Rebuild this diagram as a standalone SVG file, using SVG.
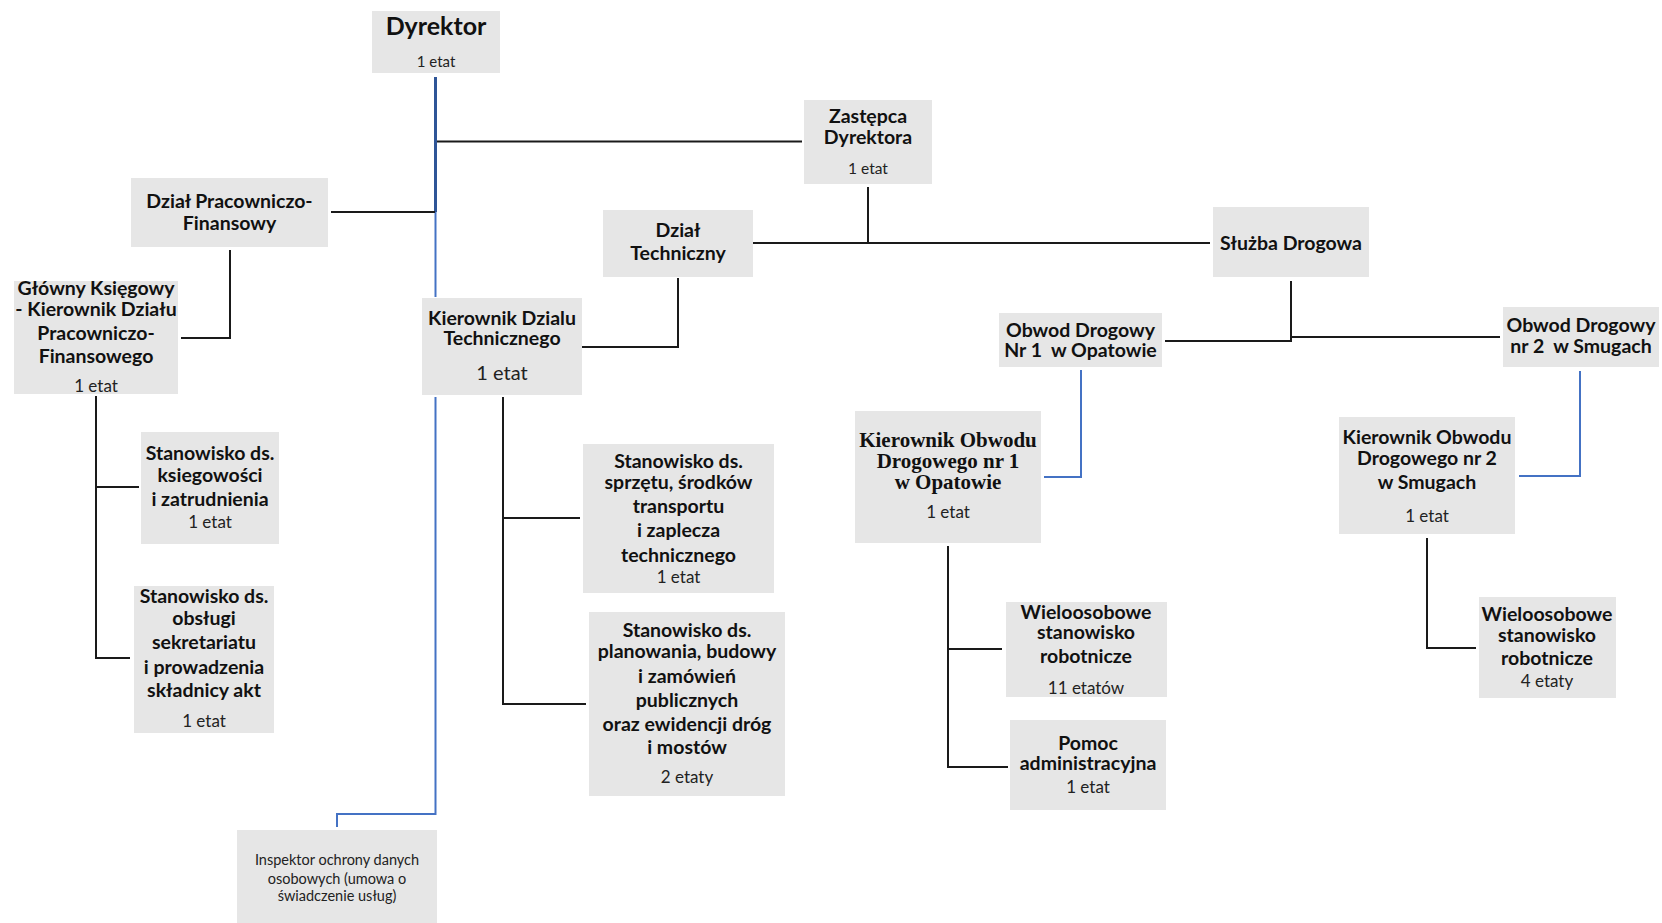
<svg xmlns="http://www.w3.org/2000/svg" width="1662" height="923" viewBox="0 0 1662 923">
<style>
.box{fill:#e6e6e6}
.t{font-family:Lato,"Noto Sans",sans-serif;font-weight:bold;font-size:19.5px;fill:#111;text-anchor:middle;white-space:pre}
.f{font-family:"Liberation Serif",serif;font-weight:bold;font-size:21px;fill:#111;text-anchor:middle}
.s{font-family:Lato,"Noto Sans",sans-serif;font-size:17px;fill:#222;text-anchor:middle}
.ln{fill:none;stroke:#1a1a1a;stroke-width:2}
.bd{fill:none;stroke:#2f5597;stroke-width:3}
.bl{fill:none;stroke:#4472c4;stroke-width:2}
</style>
<rect width="1662" height="923" fill="#fff"/>
<g id="connectors">
<path class="bd" d="M435.5 77V212"/>
<path class="bl" d="M435.5 212V297"/>
<path class="bl" d="M435.5 397V814H337V827"/>
<path class="ln" d="M437 141.5H802"/>
<path class="ln" d="M331 212H435"/>
<path class="ln" d="M230 250V338H181"/>
<path class="ln" d="M96 396V658H130M96 487H139"/>
<path class="ln" d="M868 187V243M753 243H1210"/>
<path class="ln" d="M678 278V347H582"/>
<path class="ln" d="M503 397V704H586M503 518H580"/>
<path class="ln" d="M1291 281V341H1165M1291 337H1500"/>
<path class="bl" d="M1081 370V477H1044"/>
<path class="bl" d="M1580 371V476H1519"/>
<path class="ln" d="M948 546V767H1008M948 649H1002"/>
<path class="ln" d="M1427 538V648H1476"/>
</g>
<g id="dyrektor"><rect class="box" x="372" y="11" width="128" height="62"/><text class="t" x="436" y="35" style="font-size:25px">Dyrektor</text><text class="s" x="436" y="67" style="font-size:15px">1 etat</text></g>
<g id="zastepca"><rect class="box" x="804" y="100" width="128" height="84"/><text class="t" x="868" y="123">Zastępca</text><text class="t" x="868" y="144">Dyrektora</text><text class="s" x="868" y="174" style="font-size:15.5px">1 etat</text></g>
<g id="dzial-pf"><rect class="box" x="131" y="178" width="197" height="69"/><text class="t" x="229.5" y="208">Dział Pracowniczo-</text><text class="t" x="229.5" y="230">Finansowy</text></g>
<g id="glowny"><rect class="box" x="14" y="281" width="164" height="113"/><text class="t" x="96" y="295">Główny Księgowy</text><text class="t" x="96" y="316">- Kierownik Działu</text><text class="t" x="96" y="340">Pracowniczo-</text><text class="t" x="96" y="363">Finansowego</text><text class="s" x="96" y="392">1 etat</text></g>
<g id="kier-dt"><rect class="box" x="422" y="298" width="160" height="97"/><text class="t" x="502" y="325">Kierownik Dzialu</text><text class="t" x="502" y="345">Technicznego</text><text class="s" x="502" y="380" style="font-size:20px">1 etat</text></g>
<g id="dzial-t"><rect class="box" x="603" y="210" width="150" height="67"/><text class="t" x="678" y="237">Dział</text><text class="t" x="678" y="260">Techniczny</text></g>
<g id="sluzba"><rect class="box" x="1213" y="207" width="156" height="70"/><text class="t" x="1291" y="250">Służba Drogowa</text></g>
<g id="obwod1"><rect class="box" x="999" y="313" width="163" height="54"/><text class="t" x="1080.5" y="337">Obwod Drogowy</text><text class="t" x="1080.5" y="357">Nr 1  w Opatowie</text></g>
<g id="obwod2"><rect class="box" x="1503" y="307" width="156" height="60"/><text class="t" x="1581" y="332">Obwod Drogowy</text><text class="t" x="1581" y="353">nr 2  w Smugach</text></g>
<g id="kier-ob1"><rect class="box" x="855" y="411" width="186" height="132"/><text class="f" x="948" y="447">Kierownik Obwodu</text><text class="f" x="948" y="468">Drogowego nr 1</text><text class="f" x="948" y="489">w Opatowie</text><text class="s" x="948" y="518">1 etat</text></g>
<g id="kier-ob2"><rect class="box" x="1339" y="417" width="176" height="117"/><text class="t" x="1427" y="444">Kierownik Obwodu</text><text class="t" x="1427" y="465">Drogowego nr 2</text><text class="t" x="1427" y="489">w Smugach</text><text class="s" x="1427" y="522">1 etat</text></g>
<g id="st-ksieg"><rect class="box" x="141" y="432" width="138" height="112"/><text class="t" x="210" y="460">Stanowisko ds.</text><text class="t" x="210" y="482">ksiegowości</text><text class="t" x="210" y="506">i zatrudnienia</text><text class="s" x="210" y="528">1 etat</text></g>
<g id="st-sekr"><rect class="box" x="134" y="586" width="140" height="147"/><text class="t" x="204" y="603">Stanowisko ds.</text><text class="t" x="204" y="625">obsługi</text><text class="t" x="204" y="649">sekretariatu</text><text class="t" x="204" y="674">i prowadzenia</text><text class="t" x="204" y="697">składnicy akt</text><text class="s" x="204" y="727">1 etat</text></g>
<g id="st-sprzet"><rect class="box" x="583" y="444" width="191" height="149"/><text class="t" x="678.5" y="468">Stanowisko ds.</text><text class="t" x="678.5" y="489">sprzętu, środków</text><text class="t" x="678.5" y="513">transportu</text><text class="t" x="678.5" y="537">i zaplecza</text><text class="t" x="678.5" y="562">technicznego</text><text class="s" x="678.5" y="583">1 etat</text></g>
<g id="st-plan"><rect class="box" x="589" y="612" width="196" height="184"/><text class="t" x="687" y="637">Stanowisko ds.</text><text class="t" x="687" y="658">planowania, budowy</text><text class="t" x="687" y="683">i zamówień</text><text class="t" x="687" y="707">publicznych</text><text class="t" x="687" y="731">oraz ewidencji dróg</text><text class="t" x="687" y="754">i mostów</text><text class="s" x="687" y="783">2 etaty</text></g>
<g id="wielo1"><rect class="box" x="1006" y="602" width="161" height="95"/><text class="t" x="1086" y="619">Wieloosobowe</text><text class="t" x="1086" y="639">stanowisko</text><text class="t" x="1086" y="663">robotnicze</text><text class="s" x="1086" y="694">11 etatów</text></g>
<g id="pomoc"><rect class="box" x="1010" y="720" width="156" height="90"/><text class="t" x="1088" y="750">Pomoc</text><text class="t" x="1088" y="770">administracyjna</text><text class="s" x="1088" y="793">1 etat</text></g>
<g id="wielo2"><rect class="box" x="1479" y="597" width="137" height="101"/><text class="t" x="1547" y="621">Wieloosobowe</text><text class="t" x="1547" y="642">stanowisko</text><text class="t" x="1547" y="665">robotnicze</text><text class="s" x="1547" y="687">4 etaty</text></g>
<g id="inspektor"><rect class="box" x="237" y="830" width="200" height="93"/><text class="s" x="337" y="865" style="font-size:14.5px">Inspektor ochrony danych</text><text class="s" x="337" y="884" style="font-size:14.5px">osobowych (umowa o</text><text class="s" x="337" y="901" style="font-size:14.5px">świadczenie usług)</text></g>
</svg>
